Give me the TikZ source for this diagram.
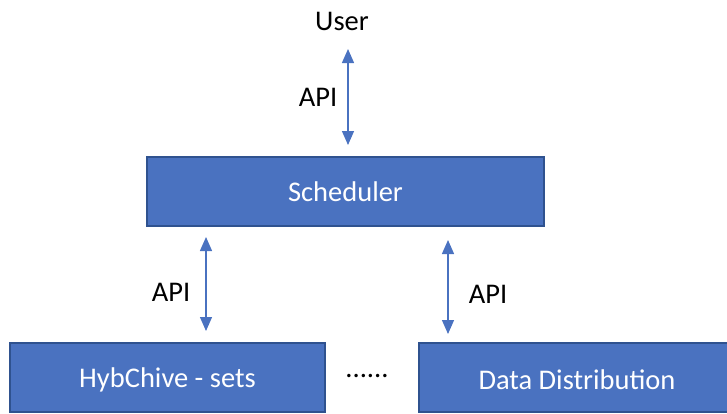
\documentclass[tikz,border=0pt]{standalone}
\usepackage{fontspec}
\setmainfont{Carlito}
\usetikzlibrary{arrows.meta}
\definecolor{boxfill}{HTML}{4A72C0}
\definecolor{boxline}{HTML}{2F528F}
\begin{document}
\begin{tikzpicture}[x=1pt,y=-1pt,
  blockbox/.style={draw=boxline,line width=1.6pt,fill=boxfill,text=white,
    font=\fontsize{28.5}{32}\selectfont,inner sep=0pt,minimum height=69pt},
  lbl/.style={font=\fontsize{28.5}{32}\selectfont,inner sep=0pt},
  apiarrow/.style={draw=boxfill,line width=1.3pt,
    {Triangle[width=12pt,length=14pt]}-{Triangle[width=12pt,length=14pt]}}]
\clip (0,0) rectangle (727,413);
\node[lbl] (user) at (342,21) {User};
\node[blockbox,minimum width=397pt] (sched) at (345.5,191.5) {Scheduler};
\node[blockbox,minimum width=315pt] (hyb) at (167.5,377.5) {};
\node[lbl,text=white] (hybtext) at (167.5,379.5) {HybChive - sets};
\node[blockbox,minimum width=312pt,anchor=west] (dd) at (418,377.5) {};
\node[lbl,text=white] (ddtext) at (577,379.5) {Data Distribution};
\node[lbl] (dots) at (367,376) {......};
\coordinate (a1t) at (348,49);
\coordinate (a1b) at (348,145);
\coordinate (a2t) at (206,237);
\coordinate (a2b) at (206,331);
\coordinate (a3t) at (448,240);
\coordinate (a3b) at (448,334);
\draw[apiarrow] (a1t) -- (a1b);
\draw[apiarrow] (a2t) -- (a2b);
\draw[apiarrow] (a3t) -- (a3b);
\node[lbl] (api1) at (318,97) {API};
\node[lbl] (api2) at (171,292) {API};
\node[lbl] (api3) at (488,294) {API};
\end{tikzpicture}
\end{document}
